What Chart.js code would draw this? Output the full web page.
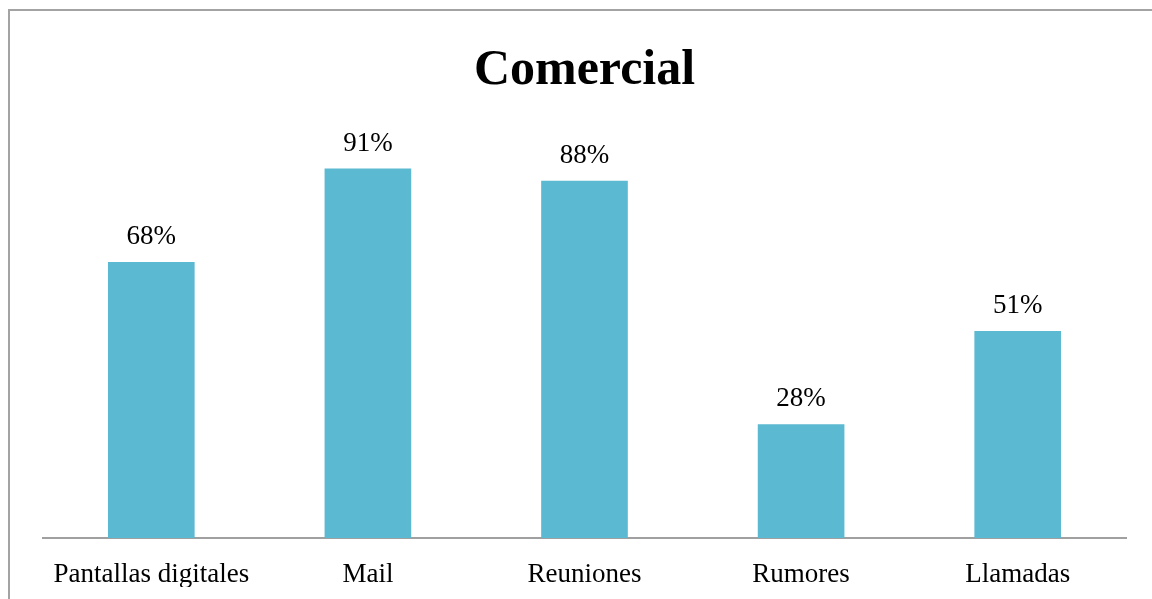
<!DOCTYPE html>
<html>
<head>
<meta charset="utf-8">
<script src="https://cdn.jsdelivr.net/npm/chart.js@4"></script>
<style>
  html, body { margin: 0; padding: 0; background: #fff; overflow: hidden; }
  #wrap { position: relative; width: 1152px; height: 599px; overflow: hidden; }
  #frame { position: absolute; left: 8px; top: 9px; width: 1300px; height: 800px; border: 2px solid #a3a3a3; box-sizing: border-box; }
  canvas { position: absolute; left: 0; top: 0; }
</style>
</head>
<body>
<div id="wrap">
  <div id="frame"></div>
  <canvas id="c" width="1152" height="599"></canvas>
</div>
<script>
const categories = ["Pantallas digitales", "Mail", "Reuniones", "Rumores", "Llamadas"];
const values = [68, 91, 88, 28, 51];
const valueLabels = ["68%", "91%", "88%", "28%", "51%"];
const chartTitle = "Comercial";

const serif = "'Liberation Serif', 'DejaVu Serif', serif";

const valueLabelPlugin = {
  id: 'valueLabels',
  afterDatasetsDraw(chart) {
    const ctx = chart.ctx;
    const meta = chart.getDatasetMeta(0);
    ctx.save();
    ctx.font = "27px " + serif;
    ctx.fillStyle = "#000";
    ctx.textAlign = "center";
    ctx.textBaseline = "middle";
    meta.data.forEach((bar, i) => {
      ctx.fillText(valueLabels[i], bar.x, bar.y - 25);
    });
    ctx.restore();
  }
};

new Chart(document.getElementById('c'), {
  type: 'bar',
  data: {
    labels: categories,
    datasets: [{
      data: values,
      backgroundColor: '#5bb9d2',
      borderWidth: 0,
      categoryPercentage: 1.0,
      barPercentage: 0.40
    }]
  },
  options: {
    responsive: false,
    animation: false,
    layout: { padding: { left: 43, right: 26, top: 0, bottom: 12 } },
    plugins: {
      legend: { display: false },
      tooltip: { enabled: false },
      title: {
        display: true,
        text: chartTitle,
        color: '#000',
        font: { family: serif, size: 50, weight: 'bold', lineHeight: 1.2 },
        padding: { top: 41, bottom: 31 }
      }
    },
    scales: {
      x: {
        grid: { display: false, drawTicks: false },
        border: { display: true, color: '#a0a0a0', width: 2 },
        ticks: {
          color: '#000',
          font: { family: serif, size: 27, lineHeight: 1.2 },
          padding: 21,
          maxRotation: 0,
          autoSkip: false
        },
        afterFit(scale) { scale.height = 49; }
      },
      y: {
        display: false,
        min: 0,
        max: 100
      }
    }
  },
  plugins: [valueLabelPlugin]
});
</script>
</body>
</html>
